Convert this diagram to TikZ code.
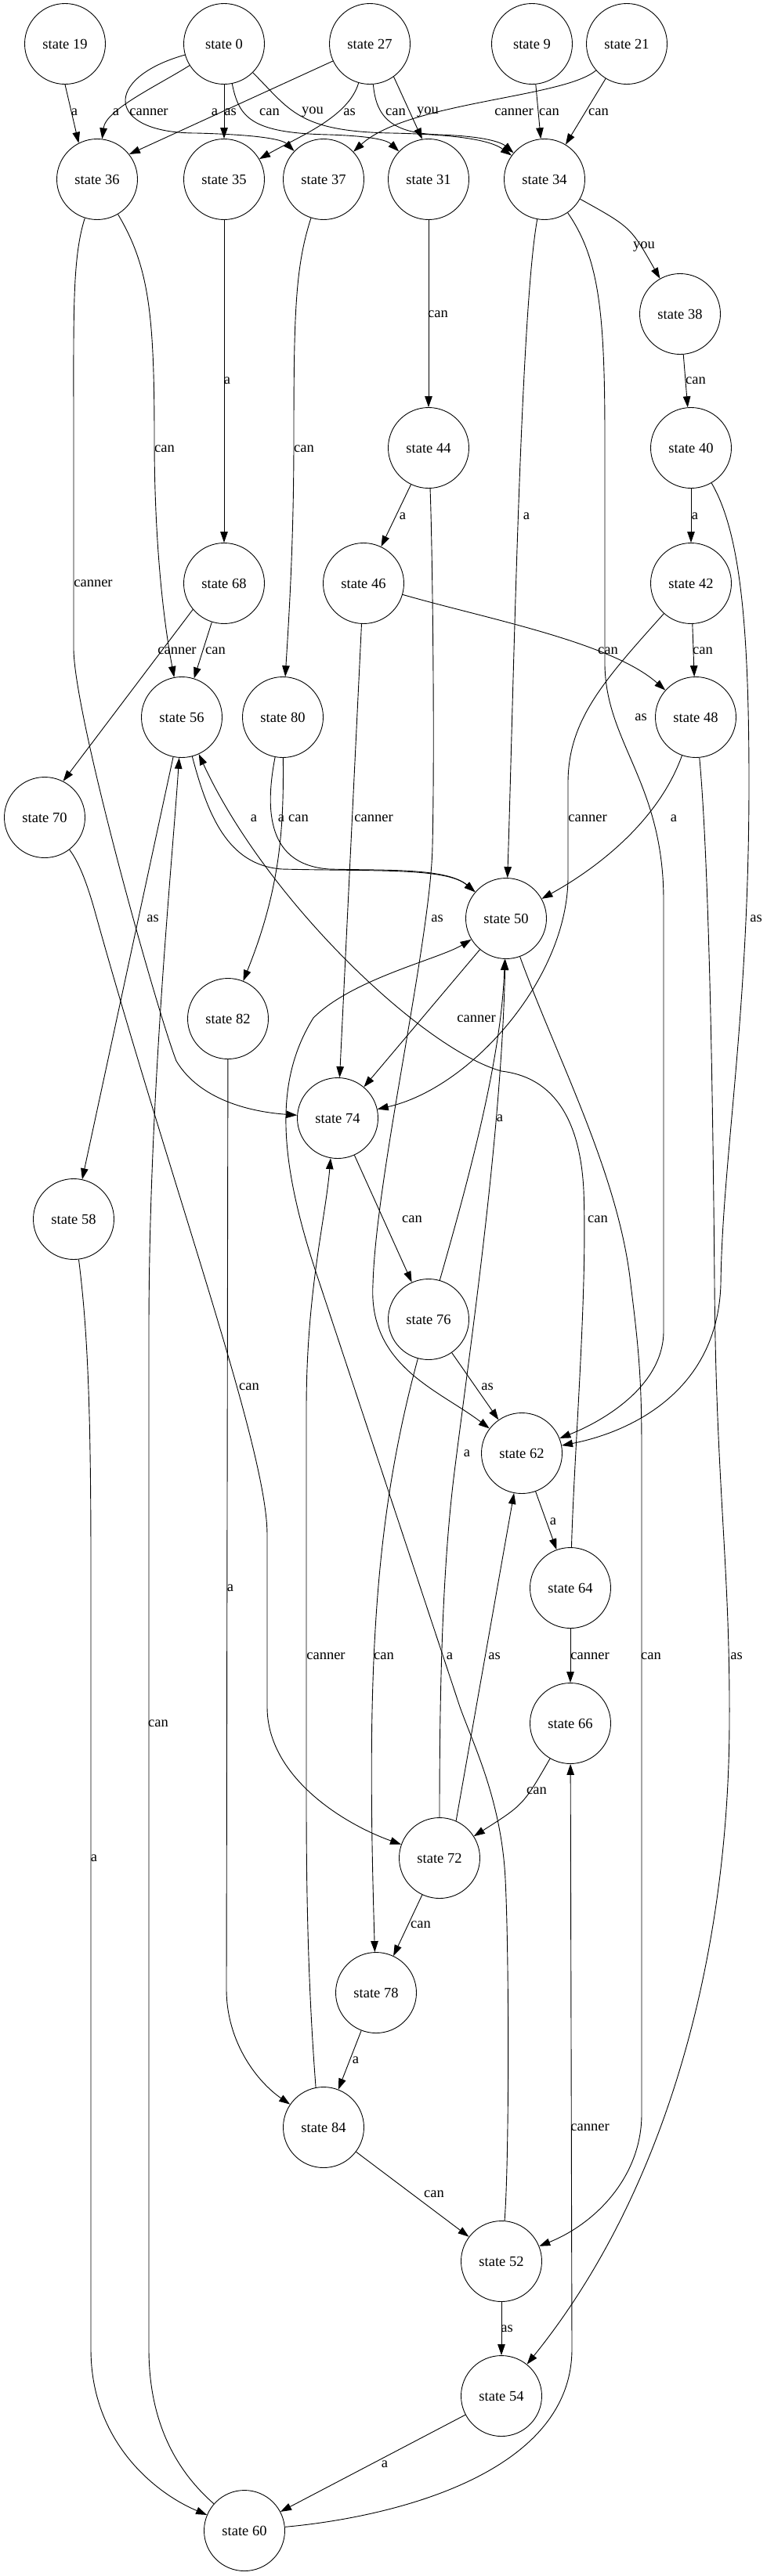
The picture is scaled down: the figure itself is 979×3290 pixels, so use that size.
\documentclass[tikz,border=0pt]{standalone}
\usepackage{fontspec}
\setmainfont{Liberation Serif}
\usetikzlibrary{arrows.meta}

\begin{document}
\begin{tikzpicture}[x=1pt, y=-1pt, line width=0.9pt,
  every node/.style = {font=\fontsize{18.5}{22}\selectfont},
  statenode/.style = {circle, draw, minimum size=103pt, inner sep=0pt},
  trans/.style = {-{Triangle[length=14pt, width=9.5pt]}},
  lbl/.style = {inner sep=0pt}]

\useasboundingbox (0,0) rectangle (979,3290);

% states
\node[statenode] (s19) at (83,56) {state 19};
\node[statenode] (s0) at (286,56) {state 0};
\node[statenode] (s27) at (472,56) {state 27};
\node[statenode] (s9) at (679,56) {state 9};
\node[statenode] (s21) at (800,56) {state 21};
\node[statenode] (s36) at (124,229) {state 36};
\node[statenode] (s35) at (286,229) {state 35};
\node[statenode] (s37) at (413,229) {state 37};
\node[statenode] (s31) at (547,229) {state 31};
\node[statenode] (s34) at (695,229) {state 34};
\node[statenode] (s38) at (868,401) {state 38};
\node[statenode] (s44) at (547,572) {state 44};
\node[statenode] (s40) at (882,572) {state 40};
\node[statenode] (s68) at (286,745) {state 68};
\node[statenode] (s46) at (464,745) {state 46};
\node[statenode] (s42) at (882,745) {state 42};
\node[statenode] (s56) at (232,916) {state 56};
\node[statenode] (s80) at (361,916) {state 80};
\node[statenode] (s48) at (888,916) {state 48};
\node[statenode] (s70) at (57,1044) {state 70};
\node[statenode] (s50) at (646,1173) {state 50};
\node[statenode] (s82) at (291,1301) {state 82};
\node[statenode] (s74) at (431,1428) {state 74};
\node[statenode] (s58) at (94,1557) {state 58};
\node[statenode] (s76) at (547,1685) {state 76};
\node[statenode] (s62) at (666,1856) {state 62};
\node[statenode] (s64) at (728,2028) {state 64};
\node[statenode] (s66) at (728,2201) {state 66};
\node[statenode] (s72) at (561,2373) {state 72};
\node[statenode] (s78) at (480,2545) {state 78};
\node[statenode] (s84) at (413,2717) {state 84};
\node[statenode] (s52) at (640,2888) {state 52};
\node[statenode] (s54) at (640,3060) {state 54};
\node[statenode] (s60) at (312,3232) {state 60};

% transitions
\draw[trans] (s19.south) -- (s36.117) node[lbl] (t1) at (95,143) {a};
\draw[trans] (s0) .. controls (200,110) and (135,140) .. (s36) node[lbl] (t2) at (148,143) {a};
\draw[trans] (s0) .. controls (130,100) and (135,170) .. (250,170) .. controls (330,172) and (360,178) .. (s37) node[lbl] (t3) at (190,143) {canner};
\draw[trans] (s0) -- (s35) node[lbl] (t4) at (294,143) {as};
\draw[trans] (s0) .. controls (305,150) and (320,170) .. (420,172) .. controls (480,174) and (495,180) .. (s31) node[lbl] (t5) at (344,143) {can};
\draw[trans] (s0) .. controls (370,140) and (380,168) .. (500,170) .. controls (600,172) and (630,182) .. (s34) node[lbl] (t6) at (399,143) {you};
\draw[trans] (s27.205) -- (s36.38) node[lbl] (t7) at (274,143) {a};
\draw[trans] (s27) .. controls (445,150) and (380,175) .. (s35) node[lbl] (t8) at (446,143) {as};
\draw[trans] (s27) .. controls (480,150) and (500,170) .. (560,172) .. controls (620,174) and (640,182) .. (s34) node[lbl] (t9) at (505,143) {can};
\draw[trans] (s27.306) -- (s31.99) node[lbl] (t10) at (546,143) {you};
\draw[trans] (s21) .. controls (720,125) and (520,130) .. (s37) node[lbl] (t11) at (656,143) {canner};
\draw[trans] (s9) -- (s34) node[lbl] (t12) at (701,143) {can};
\draw[trans] (s21) -- (s34) node[lbl] (t13) at (764,143) {can};
\draw[trans] (s34) .. controls (805,290) .. (s38) node[lbl] (t14) at (822,315) {you};
\draw[trans] (s31) -- (s44) node[lbl] (t15) at (559,401) {can};
\draw[trans] (s38) -- (s40) node[lbl] (t16) at (888,486) {can};
\draw[trans] (s35) -- (s68) node[lbl] (t17) at (290,486) {a};
\draw[trans] (s36) .. controls (92,330) and (94,400) .. (94,560) -- (94,830) .. controls (96,920) and (200,1290) .. (225,1355) .. controls (255,1405) and (320,1420) .. (s74) node[lbl] (t18) at (119,745) {canner};
\draw[trans] (s36) .. controls (190,340) and (197,400) .. (197,560) .. controls (197,700) and (210,800) .. (s56) node[lbl] (t19) at (210,573) {can};
\draw[trans] (s37) .. controls (377,340) and (375,400) .. (375,560) .. controls (375,700) and (368,800) .. (s80) node[lbl] (t20) at (388,573) {can};
\draw[trans] (s34) .. controls (664,400) and (655,900) .. (s50) node[lbl] (t21) at (672,659) {a};
\draw[trans] (s34) .. controls (765,330) and (772,400) .. (772,560) -- (772,850) .. controls (774,950) and (847,1000) .. (847,1150) -- (847,1700) .. controls (847,1770) and (770,1815) .. (s62) node[lbl] (t22) at (818,916) {as};
\draw[trans] (s44) -- (s46) node[lbl] (t23) at (514,659) {a};
\draw[trans] (s44) .. controls (552,700) and (555,950) .. (552,1080) .. controls (550,1200) and (480,1500) .. (476,1640) .. controls (470,1745) and (560,1775) .. (s62) node[lbl] (t24) at (558,1173) {as};
\draw[trans] (s40) -- (s42) node[lbl] (t25) at (887,659) {a};
\draw[trans] (s40) .. controls (945,680) and (956,800) .. (956,1000) .. controls (956,1300) and (922,1480) .. (920,1640) .. controls (916,1780) and (800,1830) .. (s62) node[lbl] (t26) at (965,1173) {as};
\draw[trans] (s42) -- (s48) node[lbl] (t27) at (897,831) {can};
\draw[trans] (s46) .. controls (620,790) and (780,820) .. (s48) node[lbl] (t28) at (776,831) {can};
\draw[trans] (s46) -- (s74) node[lbl] (t29) at (477,1045) {canner};
\draw[trans] (s42) .. controls (770,870) and (725,920) .. (725,1000) -- (725,1120) .. controls (725,1250) and (600,1390) .. (s74) node[lbl] (t30) at (750,1045) {canner};
\draw[trans] (s48) .. controls (840,1050) and (760,1110) .. (s50) node[lbl] (t31) at (860,1045) {a};
\draw[trans] (s48) .. controls (905,1100) and (910,1400) .. (912,1640) .. controls (914,1900) and (932,2000) .. (931,2200) .. controls (930,2500) and (850,2800) .. (s54) node[lbl] (t32) at (940,2115) {as};
\draw[trans] (s68) -- (s56) node[lbl] (t33) at (275,831) {can};
\draw[trans] (s68.220) -- (s70.63) node[lbl] (t34) at (226,831) {canner};
\draw[trans] (s56) .. controls (265,1040) and (290,1105) .. (360,1110) .. controls (480,1113) and (570,1108) .. (s50) node[lbl] (t35) at (324,1045) {a};
\draw[trans] (s80) .. controls (335,1050) and (350,1105) .. (420,1110) .. controls (490,1112) and (570,1108) .. (s50) node[lbl] (t36) at (359,1045) {a};
\draw[trans] (s80) .. controls (362,1050) and (360,1130) .. (s82) node[lbl] (t37) at (381,1045) {can};
\draw[trans] (s56) -- (s58) node[lbl] (t38) at (195,1173) {as};
\draw[trans] (s70) .. controls (100,1100) and (110,1125) .. (120,1160) .. controls (220,1520) and (341,1850) .. (341,1960) -- (341,2180) .. controls (341,2270) and (440,2330) .. (s72) node[lbl] (t39) at (318,1771) {can};
\draw[trans] (s50) -- (s74) node[lbl] (t40) at (608,1301) {canner};
\draw[trans] (s50) .. controls (710,1350) and (790,1500) .. (805,1640) .. controls (815,1720) and (819,1760) .. (819,1850) -- (819,2700) .. controls (819,2780) and (760,2840) .. (s52) node[lbl] (t41) at (831,2115) {can};
\draw[trans] (s74) -- (s76) node[lbl] (t42) at (526,1557) {can};
\draw[trans] (s76) .. controls (600,1500) and (640,1350) .. (s50) node[lbl] (t43) at (638,1428) {a};
\draw[trans] (s76) -- (s62) node[lbl] (t44) at (622,1771) {as};
\draw[trans] (s76) .. controls (475,1950) and (468,2150) .. (s78) node[lbl] (t45) at (490,2115) {can};
\draw[trans] (s62) -- (s64) node[lbl] (t46) at (706,1943) {a};
\draw[trans] (s64) -- (s66) node[lbl] (t47) at (753,2115) {canner};
\draw[trans] (s64) .. controls (733,1850) and (750,1650) .. (745,1520) .. controls (740,1420) and (700,1375) .. (640,1368) .. controls (540,1340) and (340,1150) .. (s56) node[lbl] (t48) at (763,1557) {can};
\draw[trans] (s66) .. controls (668,2305) .. (s72) node[lbl] (t49) at (685,2287) {can};
\draw[trans] (s72) .. controls (561,2150) and (565,2000) .. (580,1880) .. controls (600,1720) and (640,1450) .. (s50) node[lbl] (t50) at (596,1856) {a};
\draw[trans] (s72.66) -- (s62.259) node[lbl] (t51) at (631,2115) {as};
\draw[trans] (s72) -- (s78) node[lbl] (t52) at (537,2458) {can};
\draw[trans] (s78) -- (s84) node[lbl] (t53) at (454,2631) {a};
\draw[trans] (s82) -- (289,2540) .. controls (289,2610) and (330,2660) .. (s84) node[lbl] (t54) at (294,2028) {a};
\draw[trans] (s84.101) .. controls (395,2560) and (391,2450) .. (391,2300) -- (391,1800) .. controls (391,1650) and (415,1560) .. (s74.260) node[lbl] (t55) at (416,2115) {canner};
\draw[trans] (s84) -- (s52) node[lbl] (t56) at (554,2802) {can};
\draw[trans] (s52) .. controls (650,2760) and (650,2500) .. (645,2400) .. controls (640,2300) and (605,2230) .. (587,2180) -- (405,1630) .. controls (355,1480) and (350,1380) .. (400,1300) .. controls (450,1250) and (560,1225) .. (s50) node[lbl] (t57) at (574,2115) {a};
\draw[trans] (s52) -- (s54) node[lbl] (t58) at (647,2974) {as};
\draw[trans] (s54) -- (s60) node[lbl] (t59) at (491,3147) {a};
\draw[trans] (s58) .. controls (112,1700) and (116,1800) .. (116,2000) -- (116,3000) .. controls (116,3120) and (200,3185) .. (s60) node[lbl] (t60) at (120,2373) {a};
\draw[trans] (s60) .. controls (230,3160) and (190,3100) .. (190,3000) -- (190,1700) .. controls (190,1400) and (220,1100) .. (s56) node[lbl] (t61) at (202,2201) {can};
\draw[trans] (s60) .. controls (500,3215) and (730,3160) .. (730,3000) -- (s66) node[lbl] (t62) at (753,2717) {canner};
\end{tikzpicture}
\end{document}
